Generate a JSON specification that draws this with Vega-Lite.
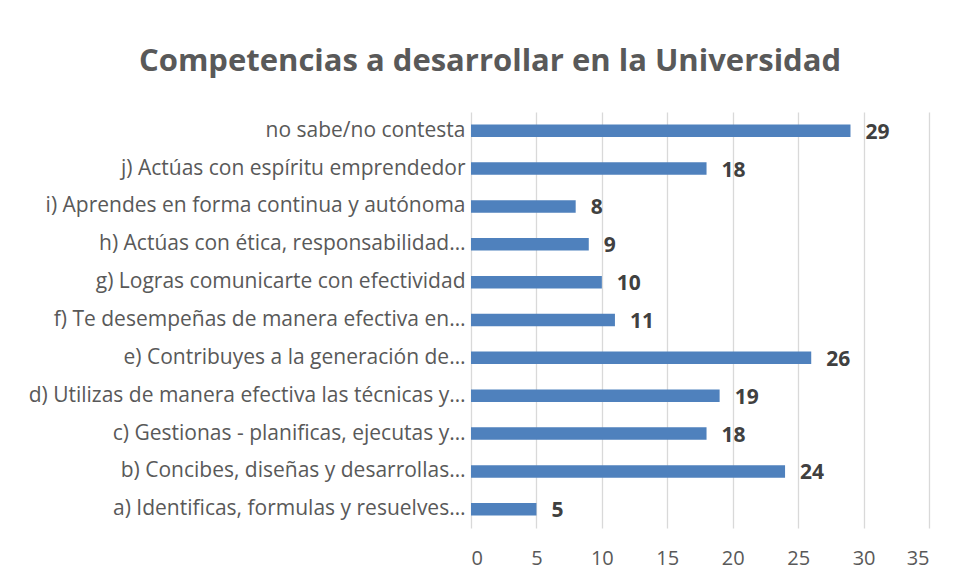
{
  "$schema": "https://vega.github.io/schema/vega-lite/v6.json",
  "autosize": {"type": "none"},
  "width": 458,
  "height": 416,
  "padding": {"left": 471, "top": 112, "right": 25, "bottom": 52},
  "background": "white",
  "config": {"view": {"stroke": null}, "font": "Open Sans"},
  "title": {
    "text": "Competencias a desarrollar en la Universidad",
    "fontSize": 31,
    "font": "Open Sans",
    "fontWeight": "bold",
    "color": "#595959",
    "anchor": "middle",
    "dx": -210,
    "offset": 34
  },
  "data": {
    "values": [
      {"competencia": "no sabe/no contesta", "n": 29, "ord": 1},
      {"competencia": "j) Actúas con espíritu emprendedor", "n": 18, "ord": 2},
      {"competencia": "i) Aprendes en forma continua y autónoma", "n": 8, "ord": 3},
      {"competencia": "h) Actúas con ética, responsabilidad…", "n": 9, "ord": 4},
      {"competencia": "g) Logras comunicarte con efectividad", "n": 10, "ord": 5},
      {"competencia": "f) Te desempeñas de manera efectiva en…", "n": 11, "ord": 6},
      {"competencia": "e) Contribuyes a la generación de…", "n": 26, "ord": 7},
      {"competencia": "d) Utilizas de manera efectiva las técnicas y…", "n": 19, "ord": 8},
      {"competencia": "c) Gestionas - planificas, ejecutas y…", "n": 18, "ord": 9},
      {"competencia": "b) Concibes, diseñas y desarrollas…", "n": 24, "ord": 10},
      {"competencia": "a) Identificas, formulas y resuelves…", "n": 5, "ord": 11}
    ]
  },
  "encoding": {
    "y": {
      "field": "competencia",
      "type": "nominal",
      "sort": {"field": "ord", "order": "ascending"},
      "scale": {"paddingInner": 0.67, "paddingOuter": 0.33},
      "axis": {
        "title": null,
        "ticks": false,
        "domain": false,
        "labelPadding": 6,
        "labelLimit": 600,
        "labelFontSize": 21,
        "labelFont": "Open Sans",
        "labelColor": "#595959"
      }
    },
    "x": {
      "field": "n",
      "type": "quantitative",
      "scale": {"domain": [0, 35], "nice": false},
      "axis": {
        "title": null,
        "values": [0, 5, 10, 15, 20, 25, 30, 35],
        "ticks": false,
        "domain": false,
        "grid": true,
        "gridColor": "#d9d9d9",
        "gridWidth": 1.3,
        "labelPadding": 20,
        "labelFontSize": 20,
        "labelFont": "Open Sans",
        "labelColor": "#595959"
      }
    }
  },
  "layer": [
    {"mark": {"type": "bar", "color": "#4f81bd"}},
    {
      "mark": {"type": "text", "align": "left", "dx": 15, "dy": 2, "fontSize": 21, "fontWeight": "bold", "color": "#404040", "font": "Open Sans"},
      "encoding": {"text": {"field": "n", "type": "quantitative"}}
    }
  ]
}
